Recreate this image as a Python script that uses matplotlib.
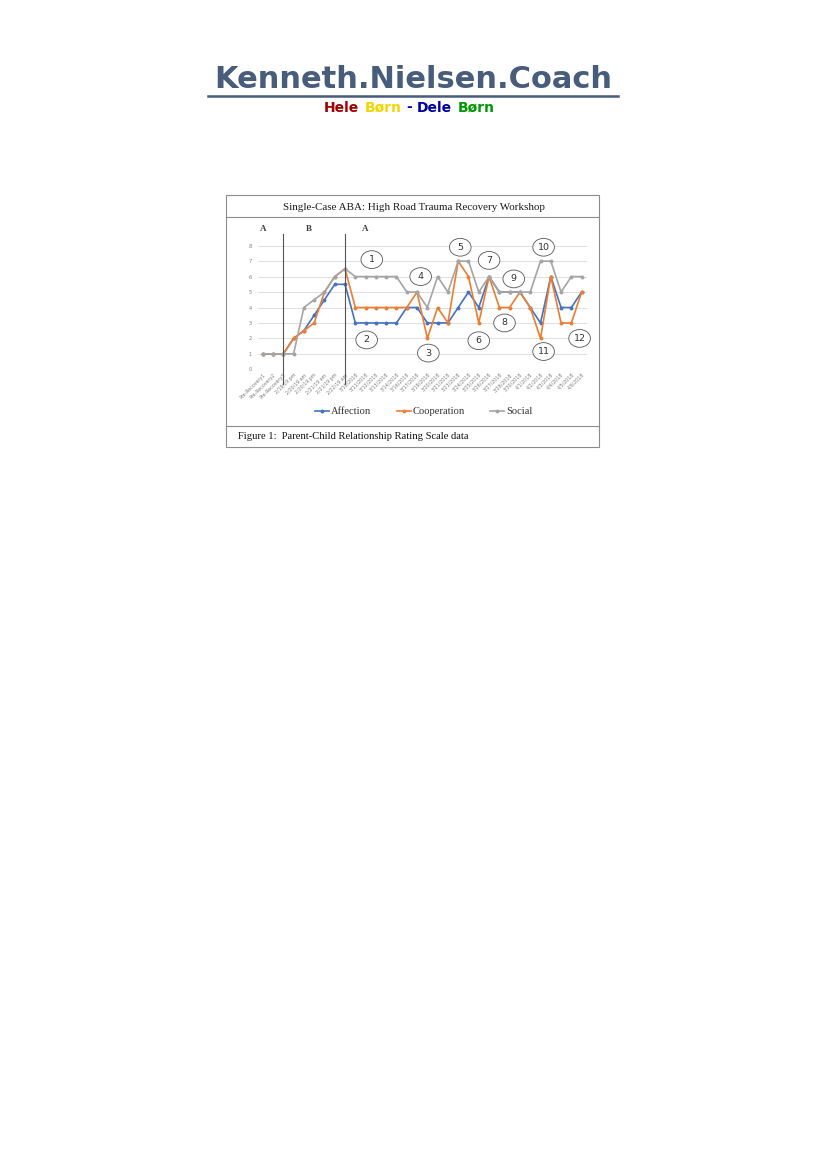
import matplotlib
matplotlib.use("Agg")
import matplotlib.pyplot as plt
from matplotlib.lines import Line2D
from matplotlib.patches import Rectangle, Ellipse

W, H = 827, 1169

# data
labels = ["Pre-Recovery1", "Pre-Recovery2", "Pre-Recovery3",
          "2/19/19 pm", "2/20/19 am", "2/20/19 pm", "2/21/19 am", "2/21/19 pm", "2/22/19 am",
          "3/10/2018", "3/11/2018", "3/12/2018", "3/13/2018", "3/14/2018", "3/16/2018",
          "3/17/2018", "3/19/2018", "3/20/2018", "3/21/2018", "3/23/2018", "3/24/2018",
          "3/25/2018", "3/26/2018", "3/27/2018", "3/28/2018", "3/30/2018", "4/1/2018",
          "4/2/2018", "4/3/2018", "4/4/2018", "4/5/2018", "4/6/2018"]
affection = [1, 1, 1, 2, 2.5, 3.5, 4.5, 5.5, 5.5, 3, 3, 3, 3, 3, 4, 4,
             3, 3, 3, 4, 5, 4, 6, 5, 5, 5, 4, 3, 6, 4, 4, 5]
cooperation = [1, 1, 1, 2, 2.5, 3, 5, 6, 6.5, 4, 4, 4, 4, 4, 4, 5,
               2, 4, 3, 7, 6, 3, 6, 4, 4, 5, 4, 2, 6, 3, 3, 5]
social = [1, 1, 1, 1, 4, 4.5, 5, 6, 6.5, 6, 6, 6, 6, 6, 5, 5,
          4, 6, 5, 7, 7, 5, 6, 5, 5, 5, 5, 7, 7, 5, 6, 6]
phase_labels = ["A", "B", "A"]
phase_x = [0, 4.5, 10]
phase_breaks = [2, 8]
notes = ["1", "2", "3", "4", "5", "6", "7", "8", "9", "10", "11", "12"]
note_x = [10.6, 10.1, 16.1, 15.35, 19.2, 21.0, 22.0, 23.5, 24.4, 27.3, 27.3, 30.8]
note_y = [7.1, 1.9, 1.05, 6.0, 7.9, 1.85, 7.05, 3.0, 5.85, 7.9, 1.15, 2.0]


def fx(px):
    return px / W


def fy(py):
    return 1 - py / H


fig = plt.figure(figsize=(W / 100, H / 100), dpi=100)

# header
hcol = "#485c7c"
fig.text(fx(413), fy(79), "Kenneth.Nielsen.Coach", ha="center", va="center",
         fontsize=22, fontweight="bold", color=hcol, family="DejaVu Sans")
fig.add_artist(Line2D([fx(208), fx(618)], [fy(95.5), fy(95.5)], color=hcol, lw=1.8))
sub_words = ["Hele", "Børn", "-", "Dele", "Børn"]
sub_cols = ["#a00000", "#f2d600", "#000099", "#0000a0", "#009900"]
sub_x = [324, 365, 406, 417, 458]
for wd, c, x in zip(sub_words, sub_cols, sub_x):
    fig.text(fx(x), fy(107.5), wd, ha="left", va="center", fontsize=10,
             fontweight="bold", color=c, family="DejaVu Sans")

# chart frame
bcol = "#8c8c8c"
fig.add_artist(Rectangle((fx(226), fy(447)), fx(599) - fx(226), fy(195) - fy(447),
                         fill=False, ec=bcol, lw=0.8))
fig.add_artist(Line2D([fx(226), fx(599)], [fy(217), fy(217)], color=bcol, lw=0.8))
fig.add_artist(Line2D([fx(226), fx(599)], [fy(426), fy(426)], color=bcol, lw=0.8))
fig.text(fx(413.5), fy(208), "Single-Case ABA: High Road Trauma Recovery Workshop",
         ha="center", va="center", fontsize=7.9, color="#1a1a1a", family="Liberation Serif")
fig.text(fx(237.5), fy(436.5), "Figure 1:  Parent-Child Relationship Rating Scale data",
         ha="left", va="center", fontsize=7.6, color="#111111", family="Liberation Serif")

# plot area
ax = fig.add_axes([fx(257.6), fy(369.3), fx(586.8) - fx(257.6), fy(245.7) - fy(369.3)])
ax.set_xlim(-0.5, 31.5)
ax.set_ylim(0, 8)
for s in ax.spines.values():
    s.set_visible(False)
ax.set_yticks(range(0, 9))
ax.yaxis.grid(True, color="#d9d9d9", lw=0.6)
ax.set_axisbelow(True)
ax.tick_params(length=0, labelsize=3.6, labelcolor="#7f7f7f", pad=4)
x = list(range(len(labels)))
ax.set_xticks(x)
ax.set_xticklabels(labels, rotation=45, ha="right", rotation_mode="anchor", fontsize=3.4)
ax.tick_params(axis="x", pad=2)

ax.plot(x, affection, color="#4472c4", lw=1.2, marker="o", ms=1.8, label="Affection", zorder=3)
ax.plot(x, cooperation, color="#ed7d31", lw=1.2, marker="o", ms=1.8, label="Cooperation", zorder=4)
ax.plot(x, social, color="#a5a5a5", lw=1.2, marker="o", ms=1.8, label="Social", zorder=5)

for b in phase_breaks:
    ax.plot([b, b], [-0.95, 8.75], color="#555555", lw=0.8, clip_on=False, zorder=6)
for t, px in zip(phase_labels, phase_x):
    ax.text(px, 9.1, t, ha="center", va="center", fontsize=6.5, color="#404040",
            family="Liberation Serif", fontweight="bold")

for t, nx, ny in zip(notes, note_x, note_y):
    ax.add_patch(Ellipse((nx, ny), 2.1, 1.15, fc="white", ec="#555555", lw=0.6,
                         zorder=7, clip_on=False))
    ax.text(nx, ny, t, ha="center", va="center", fontsize=6.8, color="#333333", zorder=8)

fig.legend(loc="center", bbox_to_anchor=(fx(424), fy(411.7)), ncol=3, frameon=False,
           prop={"family": "Liberation Serif", "size": 7.6}, handlelength=1.3,
           handletextpad=0.2, columnspacing=2.4, labelcolor="#333333")

fig.savefig("out.png", dpi=100)
